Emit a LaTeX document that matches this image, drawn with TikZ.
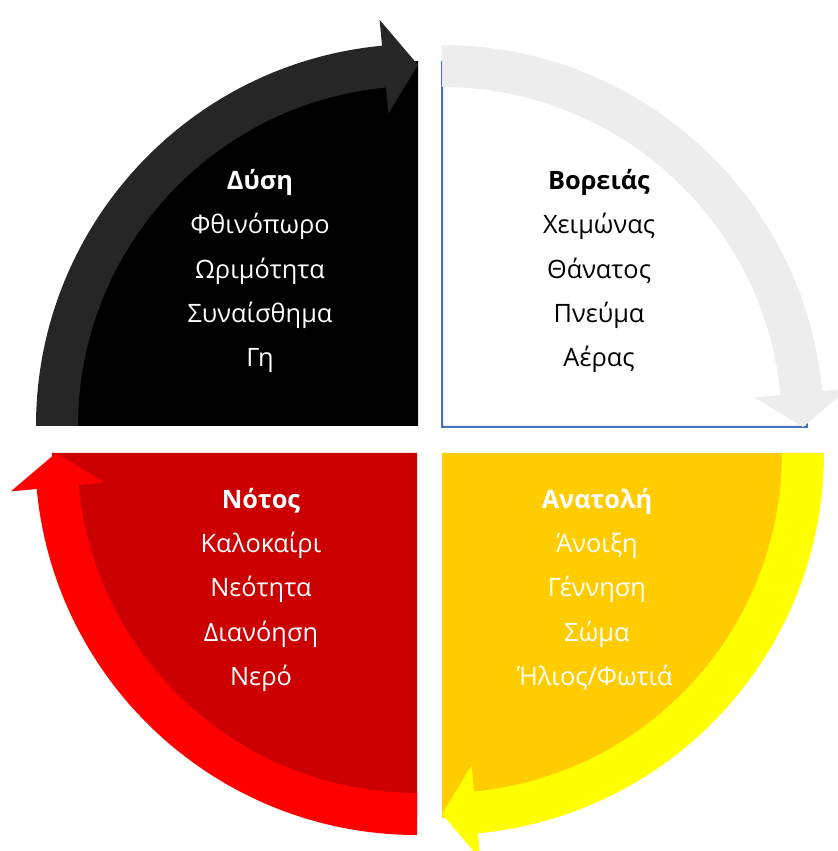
\documentclass[tikz,border=0pt]{standalone}
\usepackage{fontspec}
\setmainfont{Open Sans}
\definecolor{dgray}{HTML}{262626}
\definecolor{lgray}{HTML}{EDEDED}
\definecolor{bblue}{HTML}{4472C4}
\definecolor{dred}{HTML}{CC0000}
\definecolor{rred}{HTML}{FF0000}
\definecolor{gold}{HTML}{FFCC00}
\definecolor{yyel}{HTML}{FFFF00}
\newcommand\quadarrow[4]{% center, start angle, colour, name
  \pgfmathsetmacro\qa{#2}%
  \pgfmathsetmacro\qb{#2-84.6}%
  \pgfmathsetmacro\qt{#2-90}%
  \fill[#3] ([shift={(\qa:382)}]#1) arc[start angle=\qa, end angle=\qb, radius=382]
    -- ([shift={(\qb:408)}]#1) -- ([shift={(\qt:361)}]#1) coordinate (#4)
    -- ([shift={(\qb:314)}]#1) -- ([shift={(\qb:340)}]#1)
    arc[start angle=\qb, end angle=\qa, radius=340] -- cycle;}
\begin{document}
\begin{tikzpicture}[x=0.75pt,y=0.75pt,
  lbl/.style={anchor=base, inner sep=0pt, font=\fontsize{19}{23}\selectfont},
  hd/.style={lbl, font=\fontsize{19}{23}\selectfont\bfseries}]
\useasboundingbox (0,0) rectangle (838,851);
\coordinate (cTL) at (418,425);
\coordinate (cTR) at (442,424);
\coordinate (cBL) at (417,398);
\coordinate (cBR) at (442,398);
% sectors
\fill[black] (cTL) -- ([shift={(180:365)}]cTL) arc[start angle=180, end angle=90, radius=365] -- cycle;
\filldraw[fill=white, draw=bblue, line width=1.5pt] (cTR) -- ([shift={(90:365)}]cTR) arc[start angle=90, end angle=0, radius=365] -- cycle;
\fill[dred] (cBL) -- ([shift={(-90:365)}]cBL) arc[start angle=-90, end angle=-180, radius=365] -- cycle;
\fill[gold] (cBR) -- ([shift={(0:365)}]cBR) arc[start angle=0, end angle=-90, radius=365] -- cycle;
% arrows
\quadarrow{cTL}{180}{dgray}{tipTL}
\quadarrow{cTR}{90}{lgray}{tipTR}
\quadarrow{cBR}{0}{yyel}{tipBR}
\quadarrow{cBL}{-90}{rred}{tipBL}
% texts
\begin{scope}[every node/.append style={text=white}]
\node[hd]  (w1) at (260,661) {Δύση};
\node[lbl] (w2) at (260,617) {Φθινόπωρο};
\node[lbl] (w3) at (260,572.5) {Ωριμότητα};
\node[lbl] (w4) at (260,528) {Συναίσθημα};
\node[lbl] (w5) at (260,484) {Γη};
\node[hd]  (s1) at (261,342) {Νότος};
\node[lbl] (s2) at (261,298) {Καλοκαίρι};
\node[lbl] (s3) at (261,254) {Νεότητα};
\node[lbl] (s4) at (261,209) {Διανόηση};
\node[lbl] (s5) at (261,165) {Νερό};
\node[hd]  (e1) at (597,342) {Ανατολή};
\node[lbl] (e2) at (597,298) {Άνοιξη};
\node[lbl] (e3) at (597,254) {Γέννηση};
\node[lbl] (e4) at (597,209) {Σώμα};
\node[lbl] (e5) at (595,165) {Ήλιος/Φωτιά};
\end{scope}
\node[hd]  (n1) at (599,661) {Βορειάς};
\node[lbl] (n2) at (599,617) {Χειμώνας};
\node[lbl] (n3) at (599,572.5) {Θάνατος};
\node[lbl] (n4) at (599,528) {Πνεύμα};
\node[lbl] (n5) at (599,484) {Αέρας};
\end{tikzpicture}
\end{document}
